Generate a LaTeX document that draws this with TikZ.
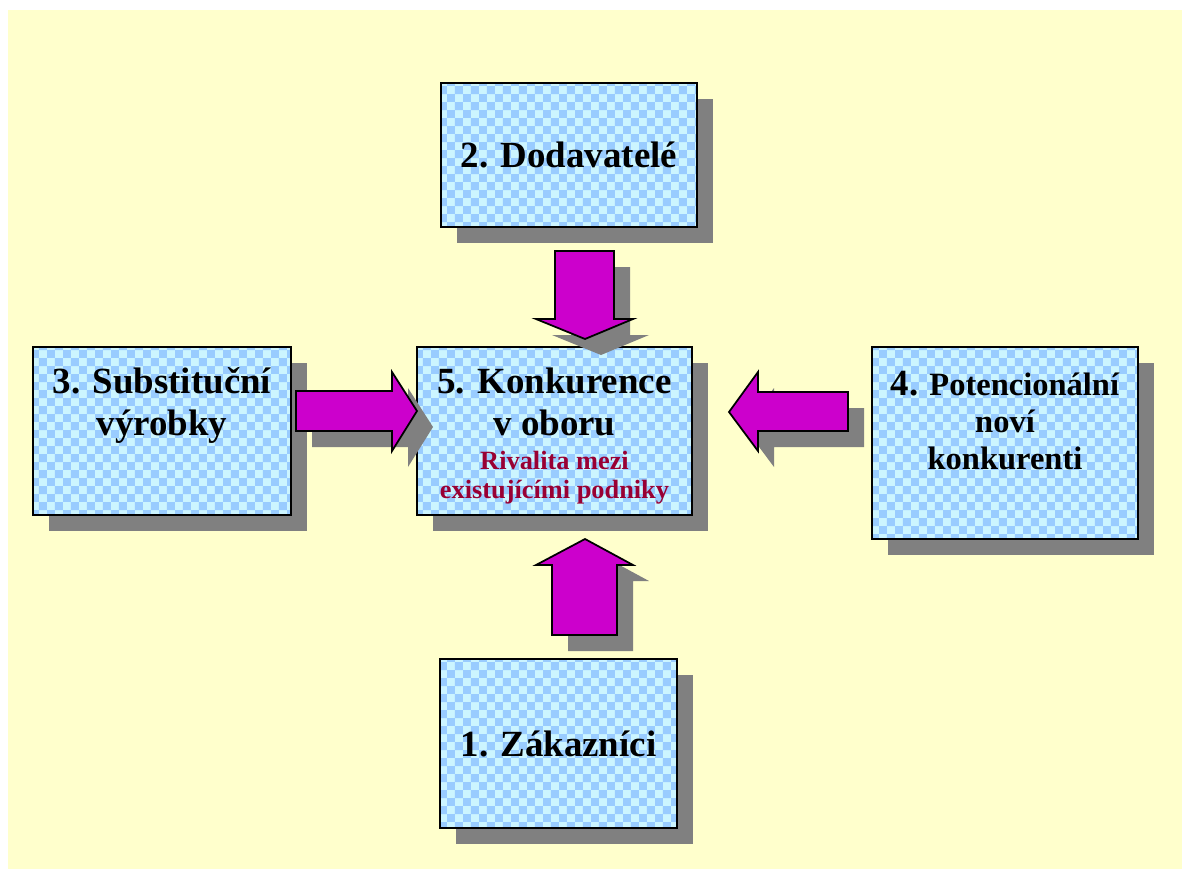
\documentclass[tikz,border=0pt]{standalone}
\usepackage{fontspec}
\setmainfont{Liberation Serif}
\usetikzlibrary{shadows,patterns,positioning}
\definecolor{paper}{HTML}{FFFFCC}
\definecolor{cella}{HTML}{CCF5FF}
\definecolor{cellb}{HTML}{99CCFF}
\definecolor{forcepink}{HTML}{CC00CC}
\definecolor{rival}{HTML}{990033}
\definecolor{shade}{HTML}{808080}
\pgfdeclarepatternformonly{boxchecks}{\pgfpointorigin}{\pgfpoint{0.32cm}{0.32cm}}{\pgfpoint{0.32cm}{0.32cm}}{%
  \pgfpathrectangle{\pgfpointorigin}{\pgfpoint{0.16cm}{0.16cm}}%
  \pgfpathrectangle{\pgfpoint{0.16cm}{0.16cm}}{\pgfpoint{0.16cm}{0.16cm}}%
  \pgfusepath{fill}}

\begin{document}
\begin{tikzpicture}[x=0.02cm,y=-0.02cm,
  box/.style={rectangle,inner sep=0pt,align=center,font=\bfseries\fontsize{21}{24}\selectfont,
    fill=cella,postaction={pattern=boxchecks,pattern color=cellb},postaction={draw=black,line width=1pt},
    drop shadow={shadow xshift=0.32cm,shadow yshift=-0.32cm,opacity=1,fill=shade}},
  lbl/.style={inner sep=0pt,align=center,font=\bfseries\fontsize{21}{24}\selectfont},
  blockarr/.style={fill=forcepink,draw=black,line width=1pt,line join=miter,
    drop shadow={shadow xshift=0.32cm,shadow yshift=-0.32cm,opacity=1,fill=shade}}]
\useasboundingbox (0,0) rectangle (1182,869);
\fill[paper] (8,10) rectangle (1182,869);
% the five forces
\node[box,minimum width=5.12cm,minimum height=2.88cm] (b2) at (569,155) {2. Dodavatelé};
\node[box,minimum width=5.5cm,minimum height=3.36cm] (b5) at (554.5,431) {};
\node[box,minimum width=5.16cm,minimum height=3.36cm] (b3) at (162,431) {};
\node[box,minimum width=5.32cm,minimum height=3.84cm] (b4) at (1005,443) {};
\node[box,minimum width=4.74cm,minimum height=3.38cm] (b1) at (558.5,743.5) {1. Zákazníci};
\node[lbl,below=0.42cm of b5.north] (t5) {5. Konkurence\\ v oboru\\[-5pt]
  {\color{rival}\fontsize{15}{17}\selectfont Rivalita mezi}\\[-7.5pt]
  {\color{rival}\fontsize{15}{17}\selectfont existujícími podniky}};
\node[lbl,below=0.4cm of b3.north] (t3) {3. Substituční\\ výrobky};
\node[lbl,below=0.48cm of b4.north,font=\bfseries\fontsize{18.5}{21}\selectfont] (t4)
  {{\fontsize{21}{24}\selectfont 4.} Potencionální\\ noví\\ konkurenti};
% block arrows into the rivalry box
\draw[blockarr] (555,251) -- (614,251) -- (614,319) -- (633,319) -- (585,339) -- (536,319) -- (555,319) -- cycle;
\draw[blockarr] (552,635) -- (617,635) -- (617,565) -- (633,565) -- (585,539) -- (536,565) -- (552,565) -- cycle;
\draw[blockarr] (296,391) -- (392,391) -- (392,372) -- (417,411) -- (392,451) -- (392,431) -- (296,431) -- cycle;
\draw[blockarr] (848,392) -- (758,392) -- (758,372) -- (729,412) -- (758,451) -- (758,431) -- (848,431) -- cycle;
\end{tikzpicture}
\end{document}
